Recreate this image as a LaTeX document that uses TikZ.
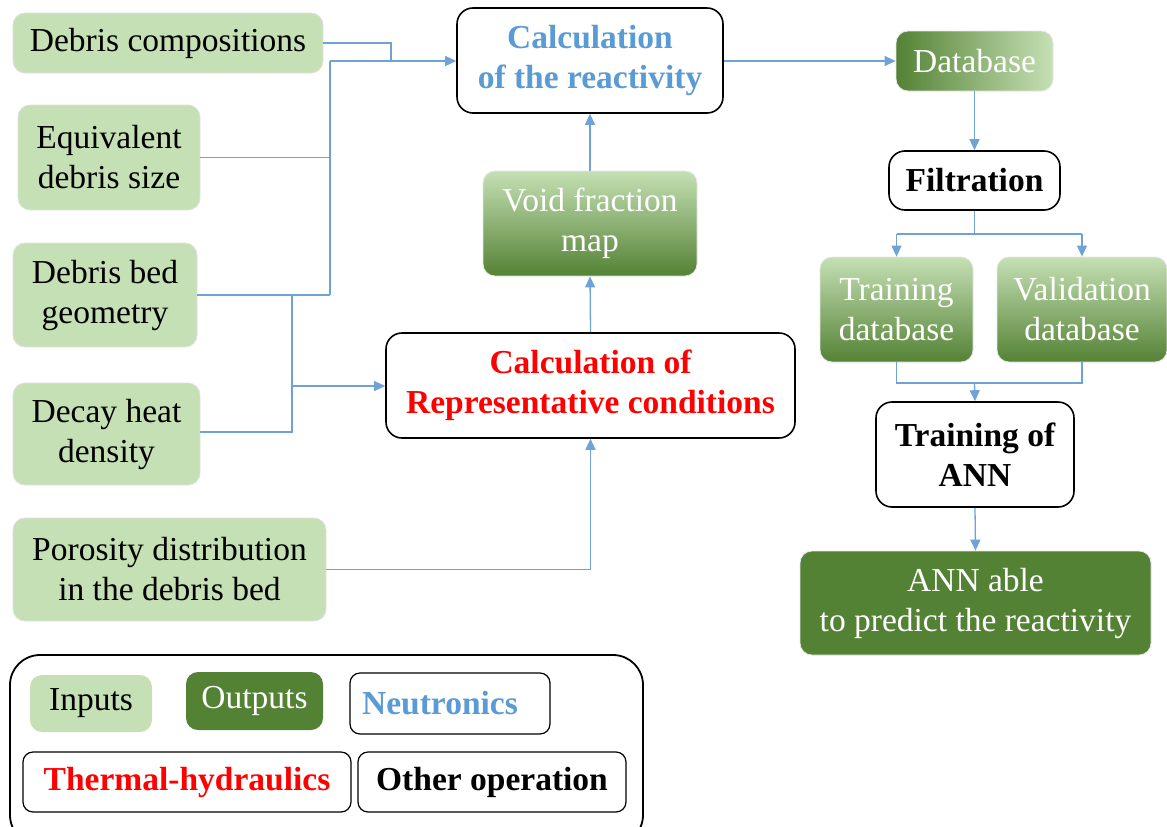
\documentclass[tikz,border=0pt]{standalone}
\usepackage{fontspec}
\setmainfont{Liberation Serif}
\usetikzlibrary{arrows.meta}
\definecolor{lgreen}{HTML}{C5E0B4}
\definecolor{dgreen}{HTML}{548235}
\definecolor{nblue}{HTML}{5B9BD5}
\definecolor{lnblue}{HTML}{6FA3D8}
\definecolor{thred}{HTML}{FF0000}
\tikzset{
  base/.style={rounded corners=12pt, align=center, inner sep=0pt, font=\fontsize{33.5}{40}\selectfont},
  inp/.style={base, fill=lgreen, draw=black!12, line width=0.8pt, text=black},
  outg/.style={base, draw=black!10, line width=0.8pt, text=white, top color=lgreen, bottom color=dgreen},
  outs/.style={base, fill=dgreen, draw=black!10, line width=0.8pt, text=white},
  proc/.style={base, rounded corners=16pt, fill=white, draw=black, line width=1.6pt, font=\fontsize{33.5}{40}\selectfont\bfseries},
  ln/.style={draw=lnblue, line width=1.3pt},
  arr/.style={ln, -{Triangle[length=11pt,width=10pt]}, shorten >=0pt},
}
\begin{document}
\begin{tikzpicture}[x=1pt,y=-1pt]
\useasboundingbox (0,0) rectangle (1167,827);
% inputs
\node[inp, minimum width=310pt, minimum height=60pt] (dc) at (168,43) {Debris compositions};
\node[inp, minimum width=182pt, minimum height=105pt] (eds) at (109,157.5) {Equivalent\\debris size};
\node[inp, minimum width=184pt, minimum height=104pt] (dbg) at (105,295) {Debris bed\\geometry};
\node[inp, minimum width=187pt, minimum height=102pt] (dhd) at (106.5,434) {Decay heat\\density};
\node[inp, minimum width=313pt, minimum height=103pt] (por) at (169.5,569.5) {Porosity distribution\\in the debris bed};
% processes
\node[proc, text=nblue, minimum width=266pt, minimum height=105pt] (reac) at (590,60.5) {Calculation\\of the reactivity};
\node[outg, minimum width=214pt, minimum height=105pt] (void) at (590,223.5) {Void fraction\\map};
\node[proc, text=thred, minimum width=409pt, minimum height=105pt] (rep) at (590.5,385.5) {Calculation of\\Representative conditions};
% right column
\node[base, draw=black!10, line width=0.8pt, text=white, left color=dgreen, right color=lgreen, minimum width=157pt, minimum height=60pt] (db) at (974.5,61) {Database};
\node[proc, minimum width=171pt, minimum height=59pt] (filt) at (974.5,180.5) {Filtration};
\node[outg, minimum width=153pt, minimum height=105pt] (tdb) at (896.5,309.5) {Training\\database};
\node[outg, minimum width=170pt, minimum height=105pt] (vdb) at (1082,309.5) {Validation\\database};
\node[proc, minimum width=198pt, minimum height=105pt] (ann) at (975,454.5) {Training of\\ANN};
\node[outs, minimum width=351pt, minimum height=104pt] (pred) at (975.5,603) {ANN able\\to predict the reactivity};
% legend
\node[draw=black, line width=1.8pt, rounded corners=30pt, minimum width=633pt, minimum height=190pt, inner sep=0pt] (leg) at (326.5,750) {};
\node[inp, draw=none, minimum width=122pt, minimum height=57pt] (li) at (91,703.5) {Inputs};
\node[outs, draw=none, minimum width=137pt, minimum height=58pt] (lo) at (254.5,701) {Outputs};
\node[proc, text=nblue, rounded corners=10pt, line width=1.2pt, minimum width=200pt, minimum height=61pt] (ln) at (450,703.5) {Neutronics\hspace*{20pt}};
\node[proc, text=thred, rounded corners=10pt, line width=1.2pt, minimum width=328pt, minimum height=60pt] (lt) at (187,782) {Thermal-hydraulics};
\node[proc, rounded corners=10pt, line width=1.2pt, minimum width=268pt, minimum height=60pt] (lother) at (492,782) {Other operation};
% connectors left
\coordinate (j1) at (330,61);
\coordinate (j2) at (391,43);
\coordinate (j3) at (330,295);
\coordinate (j4) at (292,295);
\coordinate (j5) at (292,432);
\coordinate (j6) at (292,386);
\draw[ln] (dc.east) -- (j2) -- (j2 |- j1);
\draw[arr] (j1) -- (reac.west |- j1);
\draw[ln] (j1) -- (j3);
\draw[ln] (eds.east) -- (eds.east -| j1);
\draw[ln] (dbg.east) -- (j3);
\draw[ln] (j4) -- (j5) -- (dhd.east |- j5);
\draw[arr] (j6) -- (rep.west |- j6);
\draw[arr] (por.east) -| (rep.south);
\draw[arr] (rep.north) -- (void.south);
\draw[arr] (void.north) -- (reac.south);
\draw[arr] (reac.east |- db.west) -- (db.west);
\draw[arr] (db.south) -- (filt.north);
% right column connectors
\coordinate (f1) at (974.5,234);
\coordinate (t1) at (974.5,383);
\draw[ln] (filt.south) -- (f1);
\draw[arr] (tdb.north |- f1) -- (tdb.north);
\draw[arr] (vdb.north |- f1) -- (vdb.north);
\draw[ln] (tdb.north |- f1) -- (vdb.north |- f1);
\draw[ln] (tdb.south) -- (tdb.south |- t1) -- (vdb.south |- t1) -- (vdb.south);
\draw[arr] (t1) -- (ann.north);
\draw[arr] (ann.south) -- (pred.north);
\end{tikzpicture}
\end{document}
